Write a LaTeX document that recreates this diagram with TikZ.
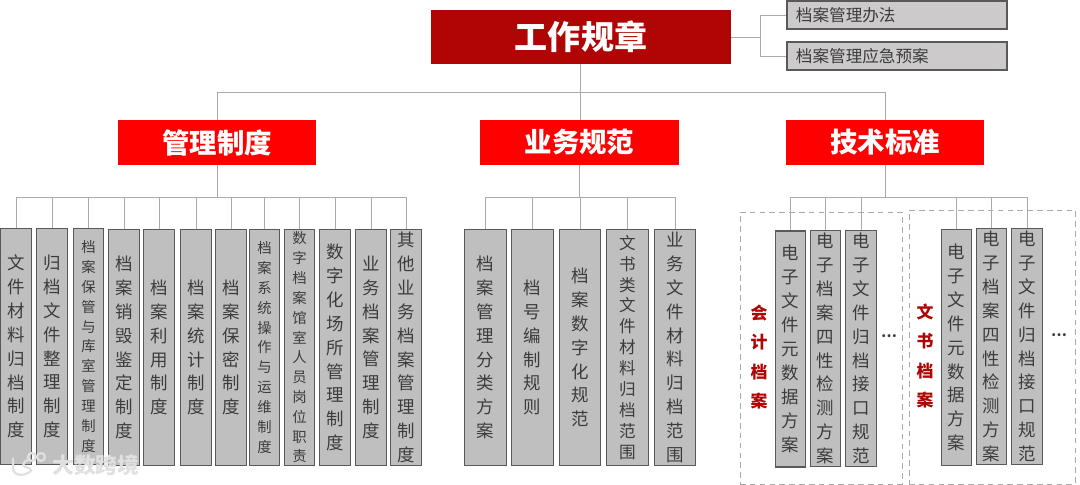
\documentclass[tikz,border=0pt]{standalone}
\usepackage{fontspec}
\setmainfont{Noto Sans CJK SC}
\XeTeXlinebreaklocale "zh"
\usetikzlibrary{positioning,calc}
\definecolor{topC}{RGB}{176,5,5}
\definecolor{midC}{RGB}{254,0,0}
\definecolor{boxC}{RGB}{191,191,191}
\definecolor{sideC}{RGB}{204,202,203}
\definecolor{edgeC}{RGB}{89,89,89}
\definecolor{lineC}{RGB}{170,170,170}
\definecolor{textC}{RGB}{60,60,60}
\tikzset{
	topbox/.style={fill=topC, minimum width=7.5cm, minimum height=1.325cm, inner sep=0pt,
		text=white, font=\fontsize{23.5}{28}\selectfont\bfseries},
	midbox/.style={fill=midC, minimum width=4.95cm, minimum height=1.125cm, inner sep=0pt,
		text=white, font=\fontsize{19.5}{24}\selectfont\bfseries},
	sidebox/.style={draw=edgeC, line width=0.8pt, fill=sideC, minimum width=5.5cm, minimum height=0.7cm,
		inner xsep=0.225cm, inner ysep=0pt, text width=5.05cm, align=left, text=textC,
		font=\fontsize{11.8}{14}\selectfont},
	colbox/.style={draw=edgeC, line width=0.8pt, fill=boxC, minimum width=0.77cm, minimum height=5.9cm,
		inner sep=0pt, text width=13.5pt, align=center, text=textC,
		font=\fontsize{12.4}{17}\selectfont},
	colsmall/.style={colbox, font=\fontsize{10.2}{14.1}\selectfont},
	colmid/.style={colbox, font=\fontsize{11.8}{14.9}\selectfont},
	wide/.style={minimum width=1.03cm},
	groupbox/.style={draw=lineC, line width=0.65pt, dash pattern=on 4pt off 3pt, inner sep=0pt},
	grouplabel/.style={inner sep=0pt, text width=13.5pt, align=center, text=topC,
		font=\fontsize{12}{21}\selectfont\bfseries},
	dots/.style={inner sep=0pt, text=textC, font=\fontsize{10}{12}\selectfont\bfseries},
	link/.style={draw=lineC, line width=0.6pt},
	markline/.style={draw=black!12, line width=1.6pt},
}

\begin{document}
\begin{tikzpicture}[x=0.025cm,y=-0.025cm]
		\useasboundingbox (0,0) rectangle (1080,485);
		
		% =============== TOP ===============
		\node[topbox] (top) at (581,37) {工作规章};
		\node[sidebox] (sideA) at (897,15) {档案管理办法};
		\node[sidebox] (sideB) at (897,56) {档案管理应急预案};
		\node[midbox] (mgmt) at (217,142.5) {管理制度};
		\node[midbox] (biz) at (579.5,142.5) {业务规范};
		\node[midbox] (tech) at (885,142.5) {技术标准};
		
		\coordinate (sideBus) at (760,37);
		\draw[link] (top.east |- sideBus) -- (sideBus);
		\draw[link] (sideBus) |- (sideA.west);
		\draw[link] (sideBus) |- (sideB.west);
		
		\coordinate (topBus) at (580,92);
		\draw[link] (top.south -| topBus) -- (biz.north -| topBus);
		\draw[link] (topBus) -| (mgmt.north);
		\draw[link] (topBus) -| (tech.north);
		
		% =============== MANAGEMENT COLUMNS ===============
		\node[colbox] (m1) at (16,346.5) {文件材料归档制度};
		\node[colbox] (m2) at (52,346.5) {归档文件整理制度};
		\node[colsmall] (m3) at (88.5,346.5) {档案保管与库室管理制度};
		\node[colbox] (m4) at (124,347.5) {档案销毁鉴定制度};
		\node[colbox] (m5) at (159,347.5) {档案利用制度};
		\node[colbox] (m6) at (196,347.5) {档案统计制度};
		\node[colbox] (m7) at (231,347.5) {档案保密制度};
		\node[colsmall] (m8) at (264.5,347.5) {档案系统操作与运维制度};
		\node[colsmall] (m9) at (299.5,347.5) {数字档案馆室人员岗位职责};
		\node[colbox] (m10) at (335,347.5) {数字化场所管理制度};
		\node[colbox] (m11) at (371,347.5) {业务档案管理制度};
		\node[colbox] (m12) at (406,347.5) {其他业务档案管理制度};
		
		\coordinate (mgmtBus) at (217,197);
		\draw[link] (mgmt.south) -- (mgmtBus);
		\draw[link] (mgmtBus) -| (m1.north);
		\draw[link] (mgmtBus) -| (m2.north);
		\draw[link] (mgmtBus) -| (m3.north);
		\draw[link] (mgmtBus) -| (m4.north);
		\draw[link] (mgmtBus) -| (m5.north);
		\draw[link] (mgmtBus) -| (m6.north);
		\draw[link] (mgmtBus) -| (m7.north);
		\draw[link] (mgmtBus) -| (m8.north);
		\draw[link] (mgmtBus) -| (m9.north);
		\draw[link] (mgmtBus) -| (m10.north);
		\draw[link] (mgmtBus) -| (m11.north);
		\draw[link] (mgmtBus) -| (m12.north);
		
		% =============== BUSINESS COLUMNS ===============
		\node[colbox, wide] (b1) at (485.5,347.5) {档案管理分类方案};
		\node[colbox, wide] (b2) at (532.5,347.5) {档号编制规则};
		\node[colbox, wide] (b3) at (580,347.5) {档案数字化规范};
		\node[colmid, wide] (b4) at (627.5,347.5) {文书类文件材料归档范围};
		\node[colbox, wide] (b5) at (675,347.5) {业务文件材料归档范围};
		
		\coordinate (bizBus) at (579.5,197);
		\draw[link] (biz.south) -- (bizBus);
		\draw[link] (bizBus) -| (b1.north);
		\draw[link] (bizBus) -| (b2.north);
		\draw[link] (bizBus) -| (b3.north);
		\draw[link] (bizBus) -| (b4.north);
		\draw[link] (bizBus) -| (b5.north);
		
		% =============== TECHNICAL COLUMNS ===============
		\node[groupbox, minimum width=4.05cm, minimum height=6.8cm] (acc) at (821,348) {};
		\node[groupbox, minimum width=4.15cm, minimum height=6.85cm] (doc) at (992,347) {};
		\node[grouplabel] (accL) at (759,357) {会计档案};
		\node[grouplabel] (docL) at (925,356) {文书档案};
		
		\node[colbox] (t1) at (790.5,349) {电子文件元数据方案};
		\node[colbox] (t2) at (825.5,348.5) {电子档案四性检测方案};
		\node[colbox] (t3) at (861,348.5) {电子文件归档接口规范};
		\node[dots] (accD) at (889,336) {…};
		\node[colbox] (t4) at (956.5,347.5) {电子文件元数据方案};
		\node[colbox] (t5) at (991.5,346.5) {电子档案四性检测方案};
		\node[colbox] (t6) at (1027,346.5) {电子文件归档接口规范};
		\node[dots] (docD) at (1059,335) {…};
		
		\coordinate (techBus) at (885,197);
		\draw[link] (tech.south) -- (techBus);
		\draw[link] (techBus) -| (t1.north);
		\draw[link] (techBus) -| (t2.north);
		\draw[link] (techBus) -| (t3.north);
		\draw[link] (techBus) -| (t4.north);
		\draw[link] (techBus) -| (t5.north);
		\draw[link] (techBus) -| (t6.north);
		
		% =============== WATERMARK ===============
		\node[inner sep=0pt, text=black!12, font=\fontsize{15.5}{18}\selectfont\bfseries] (mark) at (96,465) {大数跨境};
		\draw[markline] (13,458) -- (13,470) .. controls (16,477) and (26,476) .. (32,470);
		\draw[markline] (30,459) .. controls (22,462) and (20,466) .. (31,469);
		\draw[markline] (32,457) circle (4);
		\draw[markline] (41,457) circle (4);
		
	\end{tikzpicture}
\end{document}
